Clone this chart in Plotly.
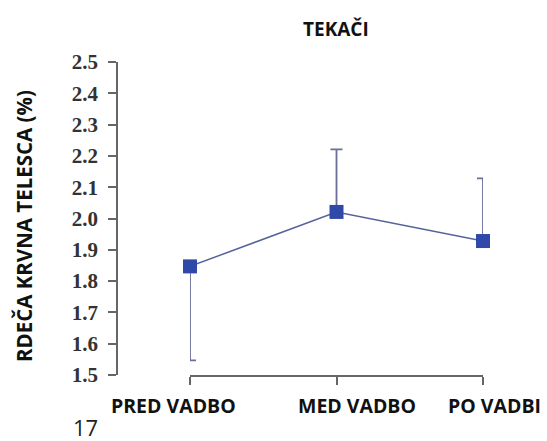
import plotly.graph_objects as go

# Red blood cell counts of runners across the three training phases
categories = ["PRED VADBO", "MED VADBO", "PO VADBI"]
values = [1.847, 2.021, 1.928]
err_plus = [0.0, 0.20, 0.20]
err_minus = [0.30, 0.0, 0.0]
y_ticks = [1.5, 1.6, 1.7, 1.8, 1.9, 2.0, 2.1, 2.2, 2.3, 2.4, 2.5]

W, H = 547, 441
ML, MR, MT, MB = 117, 47, 62, 66
plot_w = W - ML - MR
plot_h = H - MT - MB

fig = go.Figure()
fig.add_trace(go.Scatter(
    x=list(range(len(categories))),
    y=values,
    mode="lines+markers",
    line=dict(color="#55639a", width=1.5),
    marker=dict(symbol="square", size=14, color="#3049a8"),
    error_y=dict(type="data", symmetric=False, array=err_plus, arrayminus=err_minus,
                 color="#6a6e98", thickness=1.8, width=6),
    cliponaxis=False,
    showlegend=False,
))

sans = "Open Sans"
label_shift = [-17, 20, 11]
for i, (cat, dx) in enumerate(zip(categories, label_shift)):
    fig.add_annotation(x=i, y=0, xref="x", yref="paper", text=f"<b>{cat}</b>",
                       showarrow=False, xanchor="center", yanchor="middle",
                       yshift=-30, xshift=dx,
                       font=dict(family=sans, size=19.5, color="#111111"))

fig.add_annotation(x=(24 - ML) / plot_w, y=(H - MB - 226) / plot_h, xref="paper", yref="paper",
                   text="<b>RDEČA KRVNA TELESCA (%)</b>", textangle=-90, showarrow=False,
                   xanchor="center", yanchor="middle",
                   font=dict(family=sans, size=20.5, color="#111111"))

fig.add_annotation(x=(336 - ML) / plot_w, y=(H - MB - 29) / plot_h, xref="paper", yref="paper",
                   text="<b>TEKAČI</b>", showarrow=False, xanchor="center", yanchor="middle",
                   font=dict(family=sans, size=19, color="#111111"))

fig.add_annotation(x=(85 - ML) / plot_w, y=(H - MB - 427) / plot_h, xref="paper", yref="paper",
                   text="17", showarrow=False, xanchor="center", yanchor="middle",
                   font=dict(family=sans, size=22, color="#222222"))

fig.update_layout(
    width=W, height=H,
    margin=dict(l=ML, r=MR, t=MT, b=MB, pad=0),
    paper_bgcolor="white", plot_bgcolor="white",
    xaxis=dict(
        domain=[(190 - ML) / plot_w, (483 - ML) / plot_w],
        range=[0, len(categories) - 1],
        tickvals=list(range(len(categories))),
        showticklabels=False,
        ticks="outside", ticklen=8, tickwidth=1.5, tickcolor="#666666",
        showline=True, linecolor="#666666", linewidth=1.5,
        showgrid=False, zeroline=False,
    ),
    yaxis=dict(
        anchor="free", position=0,
        range=[1.5, 2.5],
        tickvals=y_ticks,
        ticktext=[f"<b>{v:.1f}</b>" for v in y_ticks],
        ticks="outside", ticklen=8, tickwidth=1.5, tickcolor="#666666",
        ticklabelstandoff=6,
        showline=True, linecolor="#666666", linewidth=1.5,
        showgrid=False, zeroline=False,
        tickfont=dict(family="Liberation Serif", size=21, color="#333333"),
    ),
)

fig.write_html("out.html")
